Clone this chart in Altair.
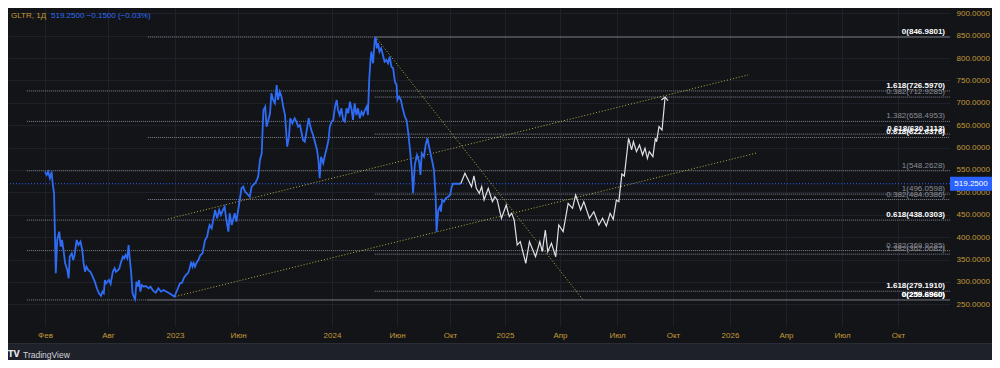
import json
import altair as alt
import pandas as pd

# ------------------------------------------------------------------ data
ticker = "GLTR, 1Д"
quote_txt = "519.2500  −0.1500 (−0.03%)"
last_txt = "519.2500"
last_price = 519.25

blue_dates = [
    "2022-02-01", "2022-02-06", "2022-02-10", "2022-02-15", "2022-02-20", "2022-02-23", "2022-02-27",
    "2022-03-04", "2022-03-08", "2022-03-14", "2022-03-18", "2022-03-22", "2022-03-26", "2022-03-31",
    "2022-04-06", "2022-04-10", "2022-04-13", "2022-04-19", "2022-04-23", "2022-04-27", "2022-05-03",
    "2022-05-08", "2022-05-14", "2022-05-19", "2022-05-23", "2022-05-27", "2022-05-31", "2022-06-05",
    "2022-06-11", "2022-06-18", "2022-06-24", "2022-06-30", "2022-07-06", "2022-07-12", "2022-07-16",
    "2022-07-20", "2022-07-23", "2022-07-27", "2022-08-03", "2022-08-07", "2022-08-12", "2022-08-16",
    "2022-08-19", "2022-08-24", "2022-08-27", "2022-08-30", "2022-09-04", "2022-09-07", "2022-09-10",
    "2022-09-14", "2022-09-17", "2022-09-20", "2022-09-23", "2022-09-26", "2022-09-29", "2022-10-02",
    "2022-10-05", "2022-10-08", "2022-10-11", "2022-10-14", "2022-10-17", "2022-10-22", "2022-10-26",
    "2022-11-02", "2022-11-06", "2022-11-12", "2022-11-18", "2022-11-24", "2022-11-30", "2022-12-06",
    "2022-12-13", "2022-12-19", "2022-12-25", "2022-12-31",
    "2023-01-03", "2023-01-08", "2023-01-13", "2023-01-18", "2023-01-22", "2023-01-27", "2023-02-01",
    "2023-02-04", "2023-02-09", "2023-02-12", "2023-02-15", "2023-02-18", "2023-02-21", "2023-02-26",
    "2023-03-03", "2023-03-08", "2023-03-11", "2023-03-14", "2023-03-19", "2023-03-22", "2023-03-25",
    "2023-03-30", "2023-04-02", "2023-04-07", "2023-04-12", "2023-04-17", "2023-04-21", "2023-04-26",
    "2023-04-30", "2023-05-04", "2023-05-09", "2023-05-12", "2023-05-17", "2023-05-20", "2023-05-24",
    "2023-05-28", "2023-06-05", "2023-06-09", "2023-06-13", "2023-06-17", "2023-06-21", "2023-06-24",
    "2023-06-28", "2023-07-02", "2023-07-06", "2023-07-10", "2023-07-14", "2023-07-17", "2023-07-21",
    "2023-07-25", "2023-07-27", "2023-07-29", "2023-08-02", "2023-08-05", "2023-08-09", "2023-08-13",
    "2023-08-16", "2023-08-20", "2023-08-24", "2023-08-28", "2023-08-31", "2023-09-04", "2023-09-08",
    "2023-09-12", "2023-09-16", "2023-09-21", "2023-09-25", "2023-09-28", "2023-10-03", "2023-10-08",
    "2023-10-12", "2023-10-16", "2023-10-20", "2023-10-24", "2023-10-27", "2023-10-31", "2023-11-04",
    "2023-11-09", "2023-11-12", "2023-11-16", "2023-11-19", "2023-11-23", "2023-11-28", "2023-12-01",
    "2023-12-04", "2023-12-07", "2023-12-12", "2023-12-16", "2023-12-20", "2023-12-24", "2023-12-27",
    "2023-12-31",
    "2024-01-04", "2024-01-08", "2024-01-12", "2024-01-15", "2024-01-19", "2024-01-23", "2024-01-27",
    "2024-01-31", "2024-02-04", "2024-02-08", "2024-02-12", "2024-02-16", "2024-02-19", "2024-02-23",
    "2024-02-27", "2024-03-02", "2024-03-06", "2024-03-10", "2024-03-14", "2024-03-18", "2024-03-22",
    "2024-03-25", "2024-03-28", "2024-03-31", "2024-04-02", "2024-04-06", "2024-04-10", "2024-04-12",
    "2024-04-15", "2024-04-18", "2024-04-21", "2024-04-25", "2024-04-29", "2024-05-03", "2024-05-07",
    "2024-05-11", "2024-05-15", "2024-05-19", "2024-05-23", "2024-05-27", "2024-05-31", "2024-06-02",
    "2024-06-06", "2024-06-10", "2024-06-14", "2024-06-19", "2024-06-23", "2024-06-27", "2024-07-01",
    "2024-07-05", "2024-07-08", "2024-07-12", "2024-07-17", "2024-07-22", "2024-07-25", "2024-07-28",
    "2024-08-02", "2024-08-06", "2024-08-10", "2024-08-13", "2024-08-17", "2024-08-22", "2024-08-25",
    "2024-08-29", "2024-08-31", "2024-09-04", "2024-09-08", "2024-09-10", "2024-09-13", "2024-09-17",
    "2024-09-21", "2024-09-27", "2024-10-01", "2024-10-04", "2024-10-06", "2024-10-15", "2024-10-19",
]
blue_prices = [
    546.2, 538.8, 546.2, 531.5, 546.2, 520.3, 497.9,
    319.3, 393.6, 412.2, 378.7, 393.6, 371.3, 341.6,
    326.6, 308.1, 356.3, 363.9, 349.0, 360.1, 393.6,
    382.5, 389.8, 371.3, 341.6, 322.8, 334.0, 326.6,
    322.8, 311.7, 300.5, 285.8, 274.6, 268.6, 278.2,
    274.6, 304.3, 296.9, 304.3, 295.4, 322.8, 330.4,
    322.8, 326.6, 330.4, 341.6, 356.3, 352.7, 360.1,
    352.7, 382.5, 349.0, 319.3, 274.6, 267.0, 261.2,
    300.5, 289.3, 304.3, 278.2, 293.1, 289.3, 290.9,
    285.8, 289.3, 280.4, 275.9, 285.8, 278.2, 282.0,
    278.2, 274.6, 270.8, 267.0,
    274.6, 285.8, 296.9, 298.3, 308.1, 315.5, 319.3,
    326.6, 345.2, 334.0, 341.6, 334.0, 341.6, 349.0,
    360.1, 363.9, 378.7, 393.6, 401.0, 416.0, 427.1,
    419.8, 434.5, 460.6, 442.1, 460.6, 449.5, 460.6,
    468.0, 438.3, 412.2, 453.3, 427.1, 438.3, 453.3,
    434.5, 483.0, 509.1, 512.7, 501.5, 497.9, 494.1,
    490.3, 512.7, 516.5, 520.3, 527.7, 535.0, 572.3,
    587.3, 639.3, 684.0, 691.4, 646.7, 661.7, 676.6,
    721.3, 706.3, 699.0, 739.8, 706.3, 724.9, 713.7,
    691.4, 672.8, 602.0, 624.4, 665.5, 654.3, 665.5,
    657.9, 646.7, 650.5, 632.0, 617.0, 613.2, 635.5,
    665.5, 650.5, 635.5, 628.2, 613.2, 594.7, 572.3,
    531.5, 579.7, 565.0, 583.5, 598.5, 617.0, 646.7,
    657.9,
    661.7, 691.4, 706.3, 684.0, 672.8, 687.8, 661.7,
    657.9, 687.8, 676.6, 702.5, 684.0, 661.7, 699.0,
    672.8, 687.8, 665.5, 680.2, 672.8, 684.0, 691.4,
    672.8, 751.0, 795.7, 814.2, 788.3, 840.4, 846.98,
    821.8, 833.0, 814.2, 821.8, 806.9, 791.9, 795.7,
    788.3, 803.1, 780.7, 777.1, 747.2, 739.8, 706.3,
    713.7, 706.3, 687.8, 669.0, 661.7, 632.0, 594.7,
    550.0, 497.9, 561.2, 583.5, 568.5, 538.8, 587.3,
    579.7, 605.8, 620.8, 605.8, 587.3, 565.0, 550.0,
    490.3, 412.2, 460.6, 468.0, 456.8, 483.0, 479.2,
    486.8, 490.3, 494.1, 512.7, 519.25, 519.25, 519.25,
]

path_dates = [
    "2024-10-19", "2024-10-26", "2024-11-02", "2024-11-06", "2024-11-10", "2024-11-14", "2024-11-19",
    "2024-11-23", "2024-11-27", "2024-12-04", "2024-12-11", "2024-12-15", "2024-12-19", "2024-12-26",
    "2025-01-03", "2025-01-08", "2025-01-12", "2025-01-16", "2025-01-21", "2025-01-26", "2025-02-04",
    "2025-02-10", "2025-02-20", "2025-02-27", "2025-03-03", "2025-03-08", "2025-03-12", "2025-03-18",
    "2025-03-25", "2025-03-30", "2025-04-06", "2025-04-14", "2025-04-21", "2025-04-26", "2025-05-04",
    "2025-05-09", "2025-05-18", "2025-05-25", "2025-06-02", "2025-06-08", "2025-06-14", "2025-06-20",
    "2025-06-25", "2025-06-30", "2025-07-04", "2025-07-09", "2025-07-13", "2025-07-20", "2025-07-25",
    "2025-07-28", "2025-08-02", "2025-08-07", "2025-08-12", "2025-08-16", "2025-08-20", "2025-08-23",
    "2025-08-29", "2025-09-02", "2025-09-04", "2025-09-08", "2025-09-13", "2025-09-18",
]
path_prices = [
    519.25, 542.6, 523.9, 512.7, 536.6, 509.1, 497.9,
    512.7, 483.0, 509.1, 479.2, 490.3, 483.0, 442.1,
    471.8, 445.7, 453.3, 438.3, 382.5, 389.8, 341.6,
    389.8, 356.3, 389.8, 367.5, 416.0, 367.5, 386.3,
    356.3, 427.1, 412.2, 475.6, 464.4, 494.1, 460.6,
    479.2, 442.1, 456.8, 427.1, 442.1, 424.9, 453.3,
    439.9, 483.0, 479.2, 541.1, 536.6, 620.8, 594.7,
    613.2, 590.9, 605.8, 583.5, 598.5, 576.1, 590.9,
    579.7, 620.8, 613.2, 646.7, 639.3, 713.0,
]

trend_names = ["upper", "upper", "lower", "lower", "diag", "diag"]
trend_dates = ["2022-12-16", "2026-01-30", "2023-01-02", "2026-02-13", "2024-04-12", "2025-05-08"]
trend_prices = [440.5, 762.2, 267.4, 588.0, 846.98, 259.7]

fib_levels = ["0", "0.382", "0.618", "1", "1.382", "1.618",
              "0", "0.382", "0.618", "1",
              "0", "0.382", "0.618", "1", "1.382", "1.618"]
fib_values = [259.6960, 369.9285, 438.0303, 548.2628, 658.4953, 726.5970,
              259.6960, 484.0386, 622.6376, 846.9801,
              846.9801, 712.9285, 630.1113, 496.0598, 362.0082, 279.1910]
fib_starts = ["2021-12-11"] * 6 + ["2022-10-31"] * 4 + ["2024-04-10"] * 6
fib_labeled = [True] * 9 + [False] + [True] * 6
fib_bright_levels = ["0", "0.618", "1.618"]

price_ticks = list(range(250, 901, 50))
month_ticks = ["2022-02-01", "2022-08-01", "2023-01-01", "2023-06-01", "2024-01-01",
               "2024-06-01", "2024-10-01", "2025-01-01", "2025-04-01", "2025-07-01",
               "2025-10-01", "2026-01-01", "2026-04-01", "2026-07-01", "2026-10-01"]
month_names = ["Янв", "Фев", "Мар", "Апр", "Май", "Июн", "Июл", "Авг", "Сен", "Окт", "Ноя", "Дек"]
x_first = "2021-10-18"
x_last = "2026-12-25"
y_low, y_high = 201.5, 911.8

# ------------------------------------------------------------------ layout / style
W, H = 942, 318
PAD_R, PAD_B = 42, 34
tick_px = [37, 100, 167, 230, 324, 389, 442, 497, 552, 609, 665, 722, 778, 834, 890]

PANE = "#121418"
OUTER = "#1e212a"
GRID = "#1e2129"
GOLD = "#c49a36"
BLUE = "#2962ff"
LINE_BLUE = "#2f6cf6"
FIBLINE = "#80838c"
OLIVE = "#b8b046"
FONT = "Liberation Sans, Arial, sans-serif"


def ms(dates):
    """ISO dates -> epoch milliseconds (UTC)."""
    s = pd.to_datetime(pd.Series(dates))
    return ((s - pd.Timestamp("1970-01-01")) // pd.Timedelta(milliseconds=1)).astype("int64").tolist()


label_expr = ("utcmonth(datum.value) == 0 ? utcFormat(datum.value, '%Y') : "
              + json.dumps(month_names, ensure_ascii=False) + "[utcmonth(datum.value)]")

XSCALE = alt.Scale(type="linear", nice=False, zero=False,
                   domain=ms([x_first] + month_ticks + [x_last]),
                   range=[0] + tick_px + [W])
XAXIS = alt.Axis(values=ms(month_ticks), labelExpr=label_expr, title=None,
                 orient="bottom", domain=False, ticks=False, tickSize=0, labelPadding=5,
                 labelColor=GOLD, labelFontSize=8, labelFont=FONT, grid=True, gridColor=GRID,
                 labelOverlap=False, labelFlush=False)
YSCALE = alt.Scale(domain=[y_low, y_high], nice=False, zero=False)
YAXIS = alt.Axis(values=price_ticks, format=".4f", title=None, orient="right", domain=False,
                 ticks=False, tickSize=0, labelPadding=6, labelColor=GOLD, labelFontSize=8,
                 labelFont=FONT, grid=True, gridColor=GRID)


def X(f):
    return alt.X(f"{f}:Q", scale=XSCALE, axis=XAXIS)


def Y(f):
    return alt.Y(f"{f}:Q", scale=YSCALE, axis=YAXIS)


# ------------------------------------------------------------------ tables
blue_df = pd.DataFrame({"t": ms(blue_dates), "price": blue_prices})
path_df = pd.DataFrame({"t": ms(path_dates), "price": path_prices})
trend_df = pd.DataFrame({"name": trend_names, "t": ms(trend_dates), "price": trend_prices})
fib_df = pd.DataFrame({
    "level": fib_levels, "value": fib_values, "start": ms(fib_starts),
    "end": ms([x_last] * len(fib_values)), "show": fib_labeled,
})
fib_df["label"] = [f"{l}({v:.4f})" for l, v in zip(fib_df["level"], fib_df["value"])]
fib_df["bright"] = fib_df["level"].isin(fib_bright_levels)
last_df = pd.DataFrame({"price": [last_price], "txt": [last_txt]})
one = pd.DataFrame({"k": [0]})

# ------------------------------------------------------------------ layers
fib_rules = alt.Chart(fib_df).mark_rule(color=FIBLINE, strokeDash=[1, 1], strokeWidth=1).encode(
    x=X("start"), x2=alt.X2("end"), y=Y("value"))

lab_hi = fib_df[fib_df["show"] & fib_df["bright"]]
lab_lo = fib_df[fib_df["show"] & ~fib_df["bright"]]
fib_text_lo = alt.Chart(lab_lo).mark_text(
    align="right", baseline="bottom", dx=-5, dy=-1, font=FONT, fontSize=8, color="#8a8d96"
).encode(x=X("end"), y=Y("value"), text="label:N")
fib_text_hi = alt.Chart(lab_hi).mark_text(
    align="right", baseline="bottom", dx=-5, dy=-1, font=FONT, fontSize=8, fontWeight="bold",
    color="#ffffff"
).encode(x=X("end"), y=Y("value"), text="label:N")

price_rule = alt.Chart(last_df).mark_rule(color=BLUE, strokeDash=[1, 2], strokeWidth=1).encode(
    y=Y("price"))

trends = alt.Chart(trend_df).mark_line(color=OLIVE, strokeDash=[1, 2], strokeWidth=1).encode(
    x=X("t"), y=Y("price"), detail="name:N")

blue_line = alt.Chart(blue_df).mark_line(color=LINE_BLUE, strokeWidth=1.8).encode(
    x=X("t"), y=Y("price"))

path_line = alt.Chart(path_df).mark_line(color="#dfe1e6", strokeWidth=1.2).encode(
    x=X("t"), y=Y("price"))

arrow = alt.Chart(path_df.tail(1)).mark_point(
    shape="M-1,1L0,0L1,1", filled=False, size=45, strokeWidth=1.2, color="#dfe1e6", angle=6,
    opacity=1
).encode(x=X("t"), y=Y("price"))

price_box = alt.Chart(last_df).mark_tick(
    orient="horizontal", thickness=14, size=42, color=BLUE, opacity=1
).encode(x=alt.value(W + 21), y=Y("price"))
price_box_text = alt.Chart(last_df).mark_text(
    font=FONT, fontSize=8, color="#ffffff", align="center", baseline="middle"
).encode(x=alt.value(W + 21), y=Y("price"), text="txt:N")

hdr1 = alt.Chart(one).mark_text(text=ticker, font=FONT, fontSize=8, color=GOLD,
                                align="left", baseline="middle").encode(
    x=alt.value(3), y=alt.value(8))
hdr2 = alt.Chart(one).mark_text(text=quote_txt, font=FONT, fontSize=8, color=LINE_BLUE,
                                align="left", baseline="middle").encode(
    x=alt.value(43), y=alt.value(8))

strip = alt.Chart(one).mark_rect(color=OUTER).encode(
    x=alt.value(0), x2=alt.value(W + PAD_R), y=alt.value(336), y2=alt.value(H + PAD_B))
border = alt.Chart(one).mark_rule(color="#2a2d36", strokeWidth=1).encode(
    x=alt.value(0), x2=alt.value(W + PAD_R), y=alt.value(335.5))
logo_icon = alt.Chart(one).mark_text(text="TV", font="DejaVu Sans", fontSize=8, fontWeight="bold",
                                     color="#e6e8ee", align="left", baseline="middle").encode(
    x=alt.value(0), y=alt.value(347))
logo_text = alt.Chart(one).mark_text(text="TradingView", font=FONT, fontSize=8.5, color="#d1d4dc",
                                     align="left", baseline="middle").encode(
    x=alt.value(15), y=alt.value(347))

chart = alt.layer(
    fib_rules, fib_text_lo, fib_text_hi, price_rule, trends, blue_line, path_line, arrow,
    price_box, price_box_text, hdr1, hdr2, strip, border, logo_icon, logo_text,
).properties(
    width=W, height=H, background=PANE,
    padding={"left": 0, "top": 0, "right": PAD_R, "bottom": PAD_B},
    autosize=alt.AutoSizeParams(type="none"),
).configure_view(stroke=None)

chart.save("out.html", embed_options={"renderer": "svg", "actions": False})
